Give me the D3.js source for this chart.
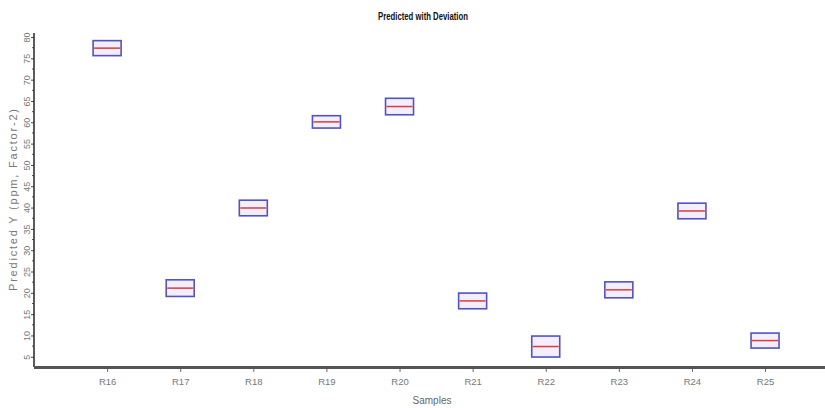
<!DOCTYPE html>
<html>
<head>
<meta charset="utf-8">
<script src="https://cdn.jsdelivr.net/npm/d3@7"></script>
<style>
  html, body { margin: 0; padding: 0; background: #fff; }
  svg { display: block; }
  text { font-family: "Liberation Sans Narrow", "Liberation Sans", Arial, sans-serif; }
</style>
</head>
<body>
<svg id="chart" width="825" height="408"></svg>
<script>
// Sample names, predicted values and their deviations
const samples = ["R16", "R17", "R18", "R19", "R20", "R21", "R22", "R23", "R24", "R25"];
const predicted = [77.4, 21.1, 39.9, 60.1, 63.7, 18.1, 7.4, 20.7, 39.2, 8.8];
const deviation = [1.76, 1.95, 1.83, 1.45, 1.93, 1.84, 2.46, 1.87, 1.83, 1.76];
const yTicks = [5, 10, 15, 20, 25, 30, 35, 40, 45, 50, 55, 60, 65, 70, 75, 80];

const svg = d3.select("#chart");
const plotL = 34, plotR = 825, plotT = 33, plotB = 367;

// x: samples placed at unit positions 1..10 along the axis
const x = d3.scaleLinear().domain([0, 10.82]).range([plotL, plotR]);
const y = d3.scaleLinear().domain([2.6, 80.95]).range([plotB, plotT]);

// Title
svg.append("text")
  .attr("x", 423).attr("y", 20)
  .attr("text-anchor", "middle")
  .attr("font-size", 11.5).attr("font-weight", "bold")
  .attr("fill", "#111")
  .attr("textLength", 90).attr("lengthAdjust", "spacingAndGlyphs")
  .text("Predicted with Deviation");

// Y axis with major ticks every 5 (labels turned upright) and minor ticks between
const yAxis = d3.axisLeft(y).tickValues(yTicks).tickSize(3);
const gy = svg.append("g").attr("transform", `translate(${plotL},0)`).call(yAxis);
gy.select(".domain").remove();
gy.selectAll(".tick line").attr("stroke", "#444");
gy.selectAll(".tick text")
  .attr("transform", "rotate(-90)")
  .attr("x", 0).attr("y", -4).attr("dy", 0)
  .attr("text-anchor", "middle")
  .attr("font-size", 9).attr("fill", "#777")
  .attr("font-family", "'Liberation Sans Narrow', 'Liberation Sans', sans-serif");
const minor = d3.range(5, 80, 2.5).filter(v => v % 5 !== 0);
svg.append("g").selectAll("line").data(minor).join("line")
  .attr("x1", plotL - 2).attr("x2", plotL)
  .attr("y1", d => y(d)).attr("y2", d => y(d))
  .attr("stroke", "#555");
svg.append("line")
  .attr("x1", plotL).attr("x2", plotL)
  .attr("y1", plotT).attr("y2", plotB)
  .attr("stroke", "#333").attr("stroke-width", 1.6);

// X axis
const xAxis = d3.axisBottom(x)
  .tickValues(d3.range(1, samples.length + 1))
  .tickFormat(i => samples[i - 1])
  .tickSize(5).tickPadding(6);
const gx = svg.append("g").attr("transform", `translate(0,${plotB})`).call(xAxis);
gx.select(".domain").remove();
gx.selectAll(".tick line").attr("stroke", "#666");
gx.selectAll(".tick text")
  .attr("font-size", 9.5).attr("fill", "#777")
  .attr("font-family", "'Liberation Sans Narrow', 'Liberation Sans', sans-serif");
svg.append("line")
  .attr("x1", plotL).attr("x2", plotR)
  .attr("y1", plotB + 0.5).attr("y2", plotB + 0.5)
  .attr("stroke", "#555").attr("stroke-width", 3);

// Axis titles
svg.append("text")
  .attr("x", 432).attr("y", 404)
  .attr("text-anchor", "middle")
  .attr("font-size", 10).attr("fill", "#666")
  .text("Samples");
svg.append("text")
  .attr("transform", "translate(17,200) rotate(-90)")
  .attr("text-anchor", "middle")
  .attr("font-size", 11).attr("fill", "#777")
  .attr("textLength", 182).attr("lengthAdjust", "spacing")
  .text("Predicted Y (ppm, Factor-2)");

// Deviation boxes with predicted value line
const boxW = 28;
const data = samples.map((s, i) => ({ s, i: i + 1, v: predicted[i], d: deviation[i] }));
const g = svg.append("g");
g.selectAll("rect").data(data).join("rect")
  .attr("x", d => x(d.i) - boxW / 2)
  .attr("y", d => y(d.v + d.d))
  .attr("width", boxW)
  .attr("height", d => y(d.v - d.d) - y(d.v + d.d))
  .attr("fill", "#f3eefb")
  .attr("stroke", "#5252c4").attr("stroke-width", 1.6);
g.selectAll("line").data(data).join("line")
  .attr("x1", d => x(d.i) - boxW / 2 + 1)
  .attr("x2", d => x(d.i) + boxW / 2 - 1)
  .attr("y1", d => y(d.v)).attr("y2", d => y(d.v))
  .attr("stroke", "#e0393b").attr("stroke-width", 1.5);
</script>
</body>
</html>
